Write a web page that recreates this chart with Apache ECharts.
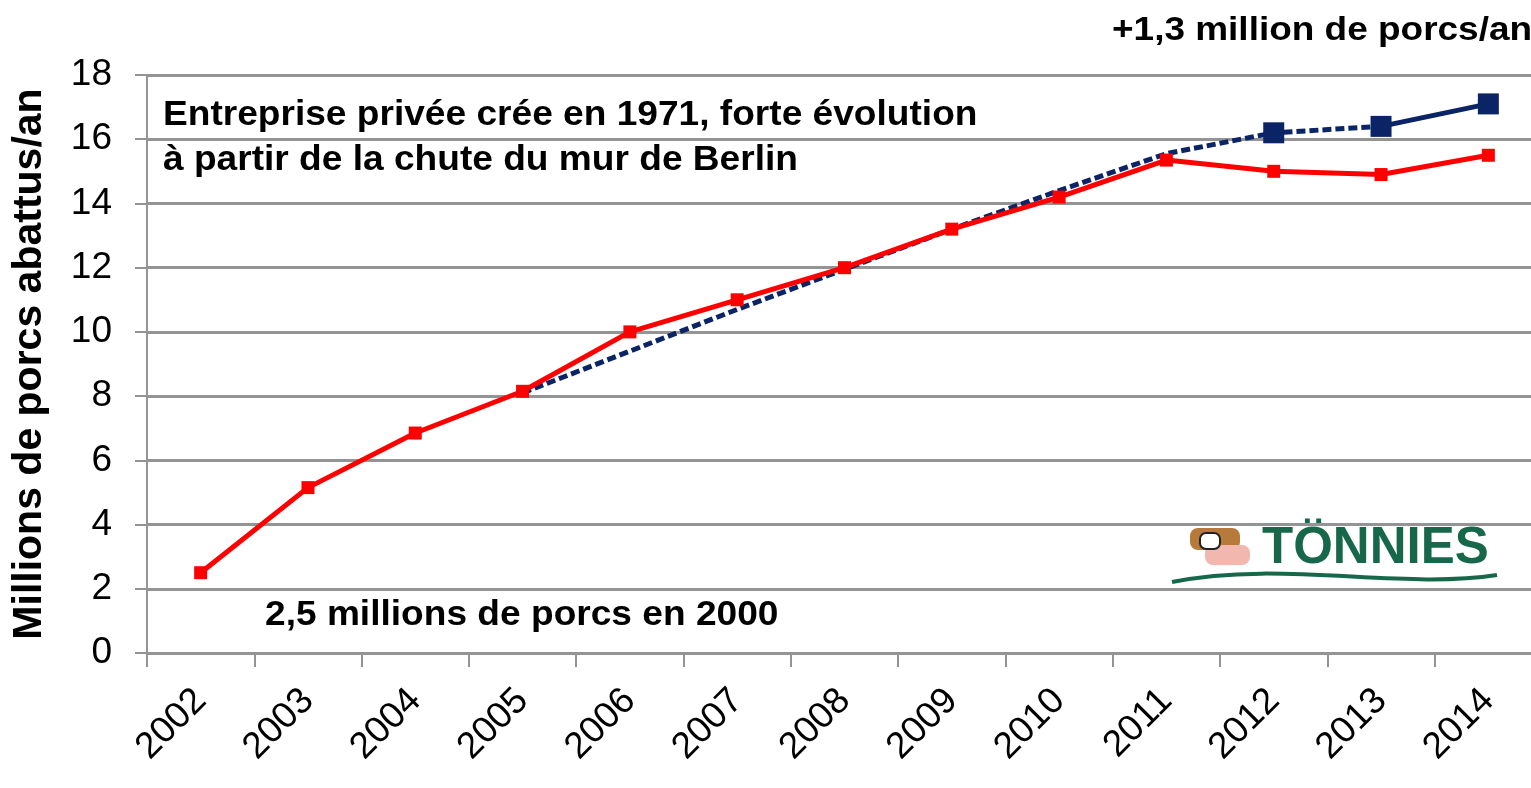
<!DOCTYPE html>
<html>
<head>
<meta charset="utf-8">
<script src="https://cdn.jsdelivr.net/npm/echarts@6/dist/echarts.min.js"></script>
<style>
html,body{margin:0;padding:0;background:#fff}
#chart{width:1531px;height:788px}
</style>
</head>
<body>
<div id="chart"></div>
<script>
// données
const years=["2002","2003","2004","2005","2006","2007","2008","2009","2010","2011","2012","2013","2014"]
const abattus=[2.5,5.15,6.85,8.15,10,11,12,13.2,14.2,15.35,15,14.9,15.5]
const tendance=[null,null,null,8.1,9.4,10.7,11.95,13.2,14.4,15.55,16.2,16.4,null]
const tendanceFin=[null,null,null,null,null,null,null,null,null,null,null,16.4,17.1]
const marqueurs=[null,null,null,null,null,null,null,null,null,null,16.2,16.4,17.1]

const font="Liberation Sans, Arial, sans-serif"
const chart=echarts.init(document.getElementById("chart"))
chart.setOption({
	animation:false,
	grid:{left:147,top:75,width:1395,bottom:135,outerBoundsMode:"none",containLabel:false},
	xAxis:{
		type:"category",
		data:years,
		boundaryGap:true,
		axisLine:{lineStyle:{color:"#949494",width:3}},
		axisTick:{show:true,length:14,lineStyle:{color:"#949494",width:2}},
		axisLabel:{rotate:45,margin:42,fontSize:37,color:"#000",fontFamily:font,interval:0}
	},
	yAxis:{
		type:"value",
		min:0,max:18,interval:2,
		name:"Millions de porcs abattus/an",
		nameLocation:"middle",
		nameGap:97,
		nameTextStyle:{fontSize:41,fontWeight:"bold",color:"#000",fontFamily:font},
		axisLine:{show:true,lineStyle:{color:"#949494",width:2}},
		axisTick:{show:true,length:12,lineStyle:{color:"#949494",width:2}},
		axisLabel:{fontSize:37,color:"#000",fontFamily:font,margin:35},
		splitLine:{lineStyle:{color:"#949494",width:3}}
	},
	series:[
		{
			type:"line",
			data:tendance,
			symbol:"none",
			lineStyle:{color:"#0b2466",width:5,type:[9,4]},
			z:3
		},
		{
			type:"line",
			data:tendanceFin,
			symbol:"none",
			lineStyle:{color:"#0b2466",width:5},
			z:3
		},
		{
			type:"line",
			data:marqueurs,
			symbol:"rect",
			symbolSize:21,
			lineStyle:{width:0,opacity:0},
			itemStyle:{color:"#0b2466"},
			z:4
		},
		{
			type:"line",
			data:abattus,
			symbol:"rect",
			symbolSize:13,
			lineStyle:{color:"#ff0000",width:5},
			itemStyle:{color:"#ff0000"},
			z:5
		}
	],
	graphic:[
		{type:"text",x:1112,y:31,scaleX:1.12,style:{text:"+1,3 million de porcs/an",font:"bold 33px "+font,fill:"#000",verticalAlign:"middle"}},
		{type:"text",x:163,y:115,scaleX:1.06,style:{text:"Entreprise privée crée en 1971, forte évolution",font:"bold 35px "+font,fill:"#000",verticalAlign:"middle"}},
		{type:"text",x:163,y:160,scaleX:1.06,style:{text:"à partir de la chute du mur de Berlin",font:"bold 35px "+font,fill:"#000",verticalAlign:"middle"}},
		{type:"text",x:265,y:615,scaleX:1.06,style:{text:"2,5 millions de porcs en 2000",font:"bold 35px "+font,fill:"#000",verticalAlign:"middle"}},
		{type:"text",x:1262,y:549,style:{text:"TÖNNIES",font:"bold 51px "+font,fill:"#17684a",verticalAlign:"middle"}},
		{type:"bezierCurve",shape:{x1:1172,y1:582,x2:1497,y2:575,cpx1:1280,cpy1:560,cpx2:1400,cpy2:590},style:{stroke:"#17684a",lineWidth:4,fill:null}},
		{type:"rect",shape:{x:1190,y:528,width:50,height:22,r:8},style:{fill:"#b87a3a"}},
		{type:"rect",shape:{x:1205,y:545,width:45,height:20,r:8},style:{fill:"#f2b8b0"}},
		{type:"rect",shape:{x:1200,y:533,width:20,height:16,r:6},style:{fill:"#fff",stroke:"#222",lineWidth:2}}
	]
})
</script>
</body>
</html>
